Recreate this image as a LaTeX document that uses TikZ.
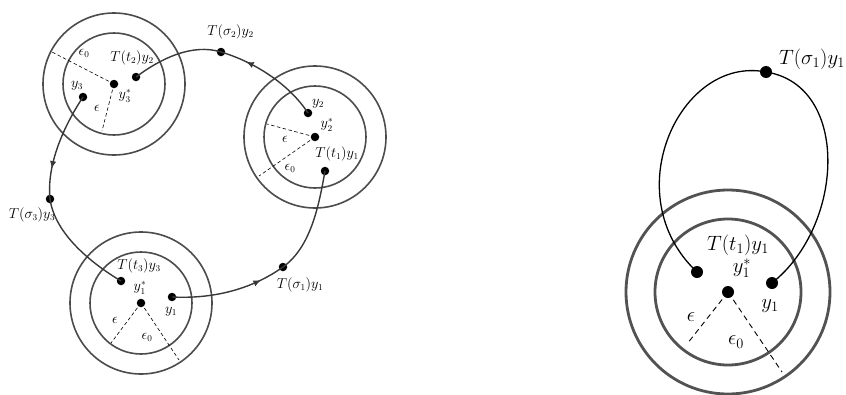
\documentclass[tikz,border=0pt]{standalone}
\usetikzlibrary{decorations.markings,arrows.meta}
\begin{document}
\begin{tikzpicture}[x=1pt,y=-1pt,
  dotL/.style={circle,fill=black,inner sep=0pt,minimum size=8.5pt},
  dotR/.style={circle,fill=black,inner sep=0pt,minimum size=12pt},
  ringL/.style={draw=black!70,line width=1.6pt},
  ringR/.style={draw=black!68,line width=2.8pt},
  curveL/.style={draw=black!78,line width=1.4pt},
  curveR/.style={draw=black,line width=1.3pt},
  radL/.style={draw=black,dashed,line width=0.6pt,dash pattern=on 3.5pt off 2.5pt},
  radR/.style={draw=black,dashed,line width=0.9pt,dash pattern=on 5.5pt off 4pt},
  lblL/.style={inner sep=0pt,font=\fontsize{13.5}{16}\selectfont},
  lblR/.style={inner sep=0pt,font=\fontsize{21}{25}\selectfont},
  arrowat/.style={postaction={decorate},decoration={markings,
     mark=at position #1 with {\arrow{Latex[length=7.5pt,width=6.5pt]}}}}
]
\useasboundingbox (0,0) rectangle (846,394);

% ---------- left: three double circles ----------
\node[dotL] (c3) at (114,84) {};
\node[dotL] (c2) at (315,137) {};
\node[dotL] (c1) at (141,303) {};
\draw[ringL] (c3.center) circle (51pt) (c3.center) circle (71pt);
\draw[ringL] (c2.center) circle (51pt) (c2.center) circle (71pt);
\draw[ringL] (c1.center) circle (51pt) (c1.center) circle (71pt);

\coordinate (r3o) at (52,52);   \coordinate (r3i) at (102,131);
\coordinate (r2i) at (267,124); \coordinate (r2o) at (259,176);
\coordinate (r1i) at (111,343); \coordinate (r1o) at (179,360);
\draw[radL] (c3.center) -- (r3o);
\draw[radL] (c3.center) -- (r3i);
\draw[radL] (c2.center) -- (r2i);
\draw[radL] (c2.center) -- (r2o);
\draw[radL] (c1.center) -- (r1i);
\draw[radL] (c1.center) -- (r1o);

% points
\node[dotL] (y3) at (83,97) {};
\node[dotL] (t2) at (136,77) {};
\node[dotL] (y2) at (308,113) {};
\node[dotL] (t1) at (325,171) {};
\node[dotL] (t3) at (121,281) {};
\node[dotL] (y1) at (172,297) {};
\node[dotL] (s3) at (50,199) {};
\node[dotL] (s2) at (221,52) {};
\node[dotL] (s1) at (283,267) {};

% orbit curves
\draw[curveL,arrowat=0.72] (y3.center) .. controls (64,126) and (46.5,164) .. (s3.center);
\draw[curveL] (s3.center) .. controls (55,234) and (91,263) .. (t3.center);
\draw[curveL,arrowat=0.75] (y2.center) .. controls (289,84) and (254.5,62) .. (s2.center);
\draw[curveL] (s2.center) .. controls (192,43) and (160,59) .. (t2.center);
\draw[curveL,arrowat=0.78] (y1.center) .. controls (212,299) and (250.6,290) .. (s1.center);
\draw[curveL] (s1.center) .. controls (311,247) and (319,205) .. (t1.center);

% labels circle 3
\node[lblL] (l3e0) at (84,53) {$\epsilon_0$};
\node[lblL] (l3t) at (132,58) {$T(t_2)y_2$};
\node[lblL] (l3y) at (77,86) {$y_3$};
\node[lblL] (l3s) at (125,96) {$y_3^*$};
\node[lblL] (l3e) at (97,108) {$\epsilon$};
% labels circle 2
\node[lblL] (l2y) at (318,104) {$y_2$};
\node[lblL] (l2s) at (327,125) {$y_2^*$};
\node[lblL] (l2t) at (337,154) {$T(t_1)y_1$};
\node[lblL] (l2e) at (285,139) {$\epsilon$};
\node[lblL] (l2e0) at (290,168) {$\epsilon_0$};
% labels circle 1
\node[lblL] (l1t) at (139,266) {$T(t_3)y_3$};
\node[lblL] (l1s) at (140,288) {$y_1^*$};
\node[lblL] (l1y) at (171,312) {$y_1$};
\node[lblL] (l1e) at (115,320) {$\epsilon$};
\node[lblL] (l1e0) at (147,337) {$\epsilon_0$};
% sigma labels
\node[lblL] (ls2) at (230.5,32) {$T(\sigma_2)y_2$};
\node[lblL] (ls3) at (32,215) {$T(\sigma_3)y_3$};
\node[lblL] (ls1) at (300,285) {$T(\sigma_1)y_1$};

% ---------- right ----------
\node[dotR] (cR) at (728,292) {};
\draw[ringR] (cR.center) circle (73pt) (cR.center) circle (102pt);
\coordinate (rRi) at (687,344);
\coordinate (rRo) at (782,372);
\draw[radR] (cR.center) -- (rRi);
\draw[radR] (cR.center) -- (rRo);

\node[dotR] (tR) at (697,272) {};
\node[dotR] (yR) at (772,283) {};
\node[dotR] (sR) at (766,72) {};
\draw[curveR] (tR.center) .. controls (615,195) and (680,55) .. (sR.center);
\draw[curveR] (sR.center) .. controls (850,85) and (845,225) .. (yR.center);

\node[lblR] (lRs) at (812,59) {$T(\sigma_1)y_1$};
\node[lblR] (lRt) at (738,245) {$T(t_1)y_1$};
\node[lblR] (lRst) at (742,268) {$y_1^*$};
\node[lblR] (lRy) at (770,306) {$y_1$};
\node[lblR] (lRe) at (691,317) {$\epsilon$};
\node[lblR] (lRe0) at (736,342) {$\epsilon_0$};
\end{tikzpicture}
\end{document}
